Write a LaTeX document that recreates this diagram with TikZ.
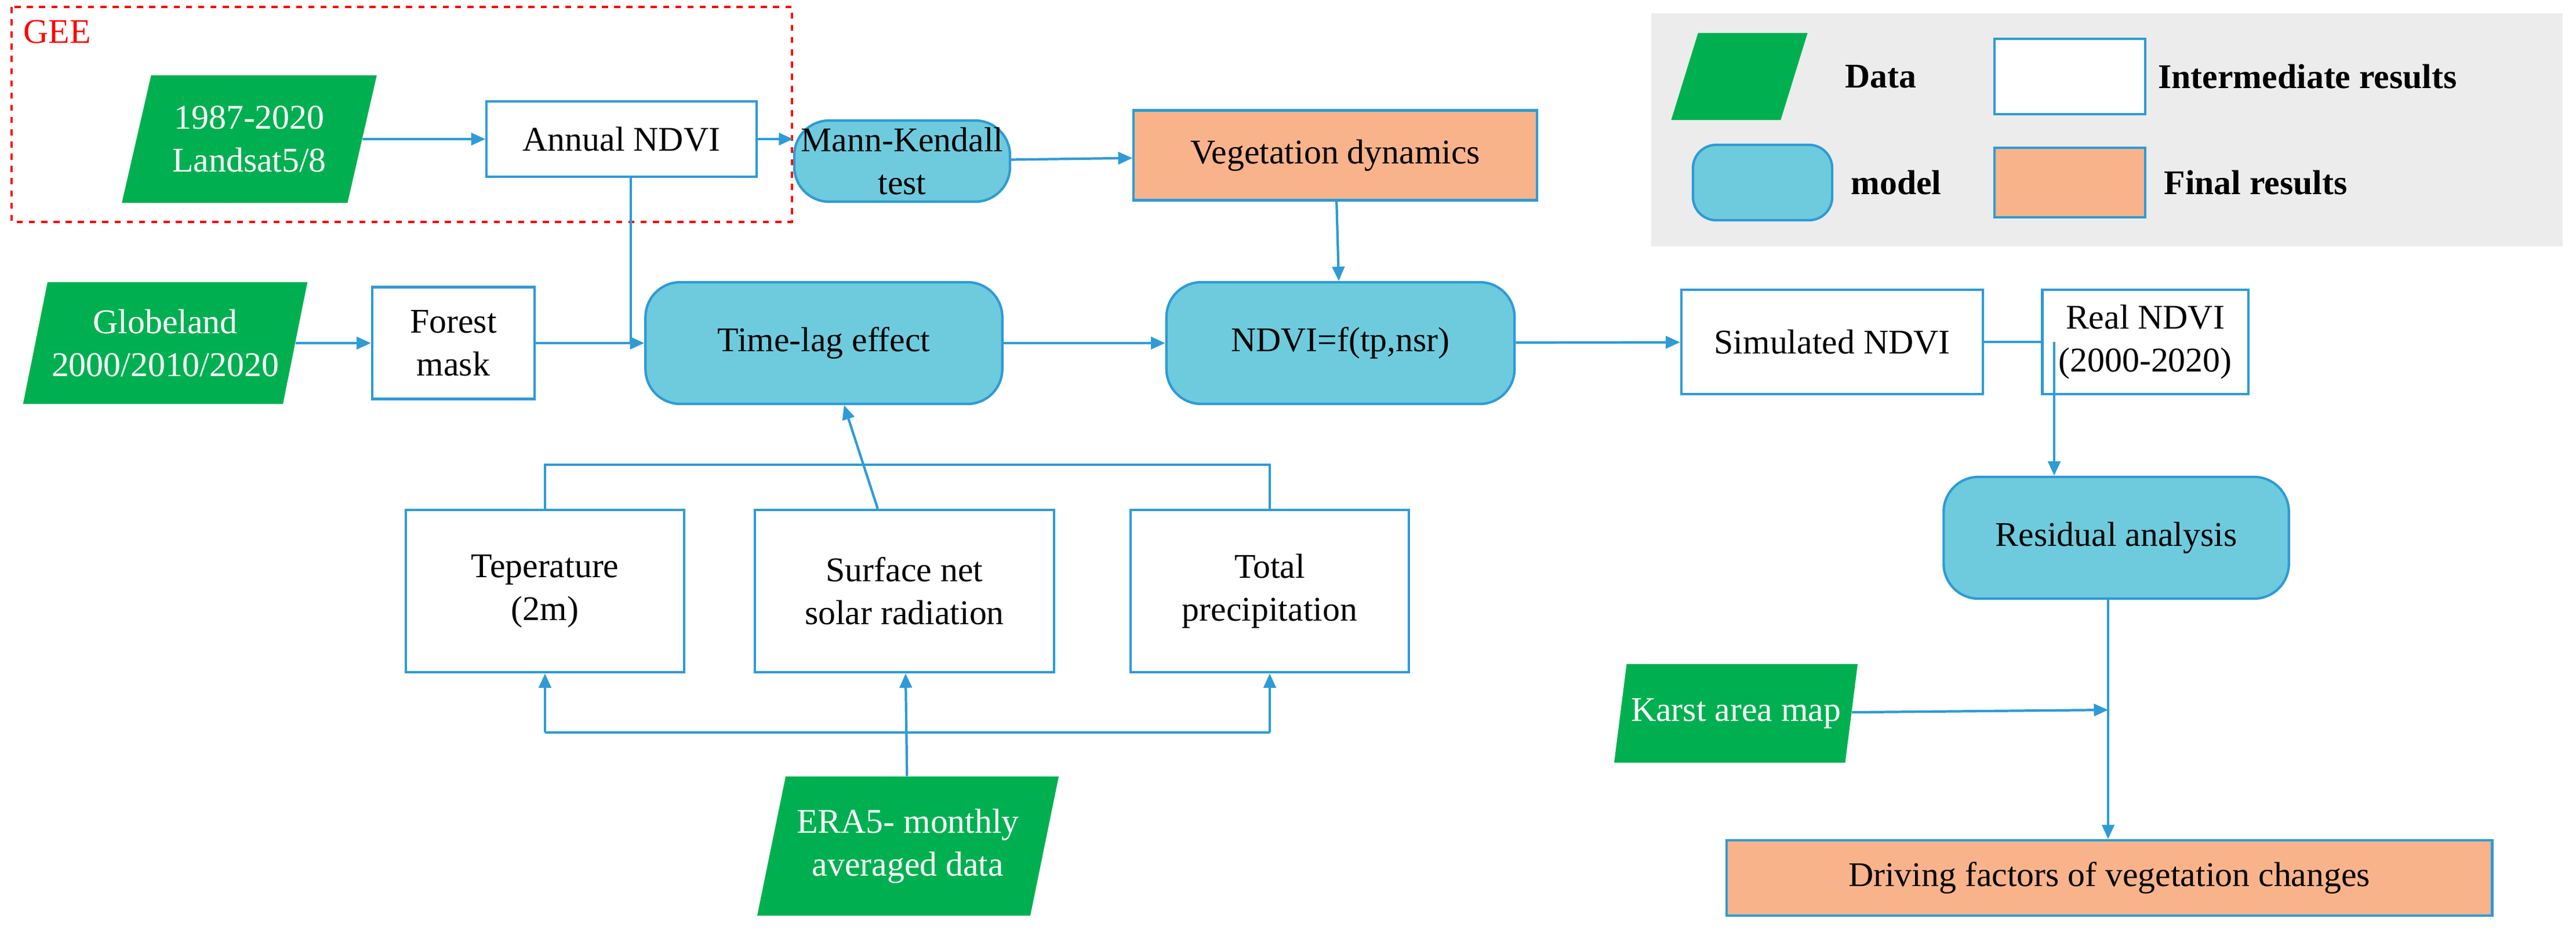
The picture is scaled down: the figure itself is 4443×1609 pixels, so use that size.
\documentclass[tikz,border=0pt]{standalone}
\usepackage{fontspec}
\setmainfont{Liberation Serif}
\usetikzlibrary{shapes.geometric,arrows.meta}
\definecolor{bl}{HTML}{2E9BD6}
\definecolor{gr}{HTML}{00B050}
\definecolor{cy}{HTML}{6ECBDD}
\definecolor{og}{HTML}{F9B38A}
\begin{document}
\begin{tikzpicture}[x=0.01cm,y=-0.01cm,font=\fontsize{17}{21}\selectfont,
 box/.style={draw=bl,line width=1.2pt,fill=white,align=center,minimum width=#1},
 mdl/.style={draw=bl,line width=1.2pt,fill=cy,rounded corners=0.6cm,align=center,minimum width=#1},
 fin/.style={draw=bl,line width=1.2pt,fill=og,align=center,minimum width=#1},
 dat/.style={trapezium,trapezium stretches=true,trapezium left angle=72,trapezium right angle=108,fill=gr,text=white,align=center,minimum width=#1,inner sep=2pt},
 ar/.style={draw=bl,line width=1.2pt,-{Triangle[length=7pt,width=6pt]}},
 ln/.style={draw=bl,line width=1.2pt}]
\useasboundingbox (0,0) rectangle (4443,1609);
\draw[red,dashed,line width=1.2pt] (20,12) rectangle (1366,383);
\node[red,anchor=north west] (gee) at (28,22) {GEE};
\node[dat=4.4cm, minimum height=2.2cm] (ls) at (430,240) {1987-2020\\Landsat5/8};
\node[box=4.65cm,minimum height=1.3cm] (an) at (1072,240) {Annual NDVI};
\node[mdl=3.45cm,minimum height=1.4cm] (mk) at (1556,278) {Mann-Kendall\\test};
\node[fin=6.95cm,minimum height=1.55cm] (vd) at (2303,268) {Vegetation dynamics};
\fill[gray!15] (2848,23) rectangle (4420,425);
\node[dat=2.35cm,minimum height=1.5cm] (l1) at (3000,132) {};
\node[font=\fontsize{17}{21}\selectfont\bfseries,anchor=west] (t1) at (3170,132) {Data};
\node[box=2.6cm,minimum height=1.3cm] (l2) at (3570,132) {};
\node[font=\fontsize{17}{21}\selectfont\bfseries,anchor=west] (t2) at (3710,132) {Intermediate results};
\node[mdl=2.4cm,minimum height=1.3cm,rounded corners=0.4cm] (l3) at (3040,315) {};
\node[font=\fontsize{17}{21}\selectfont\bfseries,anchor=west] (t3) at (3180,315) {model};
\node[fin=2.6cm,minimum height=1.2cm] (l4) at (3570,315) {};
\node[font=\fontsize{17}{21}\selectfont\bfseries,anchor=west] (t4) at (3720,315) {Final results};
\node[dat=4.5cm,minimum height=2.1cm] (gl) at (285,592) {Globeland\\2000/2010/2020};
\node[box=2.8cm,minimum height=1.93cm] (fm) at (782,592) {Forest\\mask};
\node[mdl=6.15cm,minimum height=2.1cm] (tl) at (1421,592) {Time-lag effect};
\node[mdl=6cm,minimum height=2.1cm] (nf) at (2312,592) {NDVI=f(tp,nsr)};
\node[box=5.2cm,minimum height=1.8cm] (sn) at (3160,590) {Simulated NDVI};
\node[box=3.55cm,minimum height=1.8cm] (rn) at (3700,590) {Real NDVI\\(2000-2020)};
\node[mdl=5.95cm,minimum height=2.1cm] (ra) at (3650,928) {Residual analysis};
\node[box=4.8cm,minimum height=2.8cm] (tp) at (940,1020) {Teperature\\(2m)};
\node[box=5.15cm,minimum height=2.8cm] (sr) at (1560,1020) {Surface net\\solar radiation};
\node[box=4.8cm,minimum height=2.8cm] (pr) at (2190,1020) {Total\\precipitation};
\node[dat=5.2cm,minimum height=2.4cm] (era) at (1566,1460) {ERA5- monthly\\averaged data};
\node[dat=4.2cm,minimum height=1.7cm] (ka) at (2994,1231) {Karst area map};
\node[fin=13.2cm,minimum height=1.3cm] (df) at (3638,1515) {Driving factors of vegetation changes};
\coordinate (j1) at (1088,592);
\coordinate (j2) at (3543,590);
\coordinate (j3) at (3636,1225);
\coordinate (c1) at (940,802); \coordinate (c2) at (2190,802);
\coordinate (d1) at (940,1264); \coordinate (d2) at (2190,1264);
\draw[ar] (ls) -- (an);
\draw[ar] (an.east) -- (an.east -| mk.west);
\draw[ar] (mk) -- (vd);
\draw[ar] (vd) -- (nf);
\draw[ln] (an.south -| j1) -- (j1);
\draw[ar] (gl) -- (fm);
\draw[ln] (fm) -- (j1);
\draw[ar] (j1) -- (tl);
\draw[ar] (tl) -- (nf);
\draw[ar] (nf) -- (sn);
\draw[ln] (sn) -- (rn);
\draw[ar] (j2) -- (ra.north -| j2);
\draw[ar] (ra.south -| j3) -- (df.north -| j3);
\draw[ar] (ka) -- (j3);
\draw[ln] (tp.north) -- (c1) -- (c2) -- (pr.north);
\draw[ar] (sr) -- (tl);
\draw[ar] (era) -- (sr);
\draw[ln] (d1) -- (d2);
\draw[ar] (d1) -- (tp.south);
\draw[ar] (d2) -- (pr.south);
\end{tikzpicture}
\end{document}
